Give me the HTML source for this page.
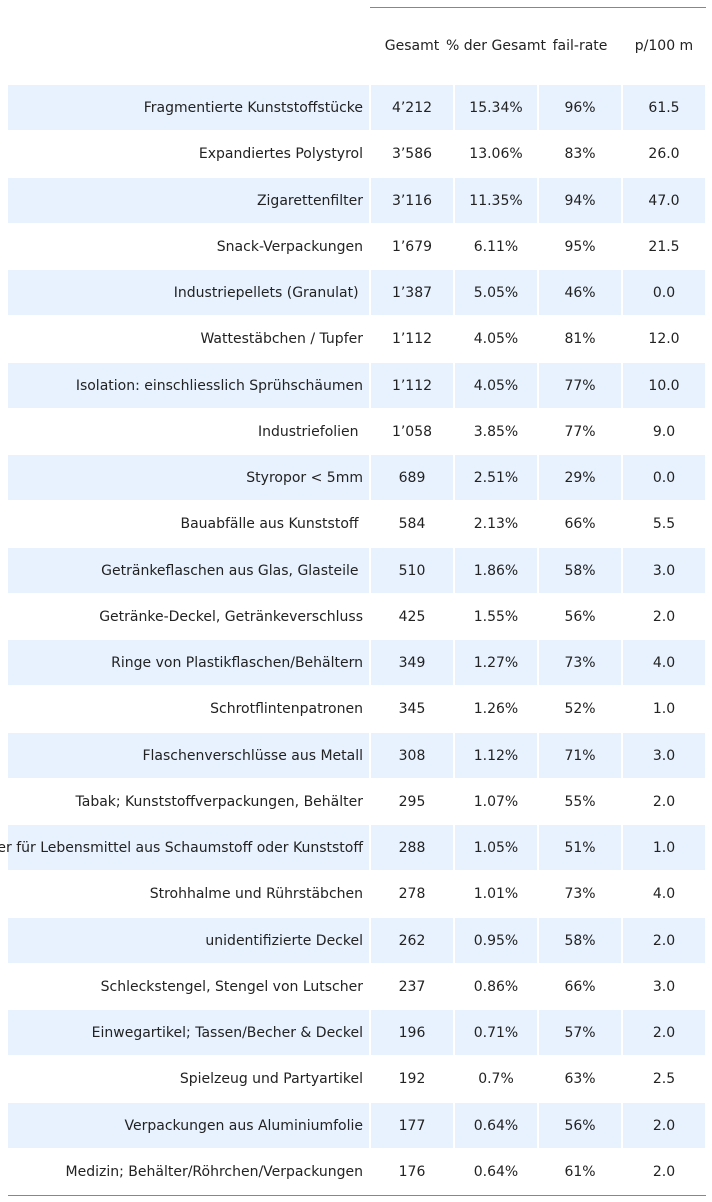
<!DOCTYPE html>
<html><head><meta charset="utf-8"><style>
body{margin:0;width:712px;height:1202px;background:#fff;position:relative;overflow:hidden;font-family:"DejaVu Sans","Liberation Sans",sans-serif;font-size:14px;color:#222}
.c{position:absolute;height:45px;line-height:46px;white-space:nowrap}
.s{background:#e8f2fe}
.h{position:absolute;top:24px;height:45px;line-height:45px;text-align:center}
.l{position:absolute;height:1px;background:#5b8fd0}
</style></head><body>
<div class="l" style="left:370px;top:7px;width:336px"></div>
<div class="l" style="left:8px;top:1195px;width:698px"></div>
<div class="h" style="left:371px;width:82px">Gesamt</div>
<div class="h" style="left:440px;width:112px">% der Gesamt</div>
<div class="h" style="left:539px;width:82px">fail-rate</div>
<div class="h" style="left:623px;width:82px">p/100 m</div>
<div id="t"></div>
<script>
const labels=["Fragmentierte Kunststoffstücke","Expandiertes Polystyrol","Zigarettenfilter","Snack-Verpackungen","Industriepellets (Granulat) ","Wattestäbchen / Tupfer","Isolation: einschliesslich Sprühschäumen","Industriefolien ","Styropor < 5mm","Bauabfälle aus Kunststoff ","Getränkeflaschen aus Glas, Glasteile ","Getränke-Deckel, Getränkeverschluss","Ringe von Plastikflaschen/Behältern","Schrotflintenpatronen","Flaschenverschlüsse aus Metall","Tabak; Kunststoffverpackungen, Behälter","Behälter für Lebensmittel aus Schaumstoff oder Kunststoff","Strohhalme und Rührstäbchen","unidentifizierte Deckel","Schleckstengel, Stengel von Lutscher","Einwegartikel; Tassen/Becher & Deckel","Spielzeug und Partyartikel","Verpackungen aus Aluminiumfolie","Medizin; Behälter/Röhrchen/Verpackungen"];
const totals=["4’212","3’586","3’116","1’679","1’387","1’112","1’112","1’058","689","584","510","425","349","345","308","295","288","278","262","237","196","192","177","176"];
const pcts=["15.34%","13.06%","11.35%","6.11%","5.05%","4.05%","4.05%","3.85%","2.51%","2.13%","1.86%","1.55%","1.27%","1.26%","1.12%","1.07%","1.05%","1.01%","0.95%","0.86%","0.71%","0.7%","0.64%","0.64%"];
const fails=["96%","83%","94%","95%","46%","81%","77%","77%","29%","66%","58%","56%","73%","52%","71%","55%","51%","73%","58%","66%","57%","63%","56%","61%"];
const p100=["61.5","26.0","47.0","21.5","0.0","12.0","10.0","9.0","0.0","5.5","3.0","2.0","4.0","1.0","3.0","2.0","1.0","4.0","2.0","3.0","2.0","2.5","2.0","2.0"];
const t=document.getElementById('t');
const cols=[[371,82,totals,'gesamt'],[455,82,pcts,'percent'],[539,82,fails,'fail-rate'],[623,82,p100,'p100m']];
labels.forEach((lab,i)=>{
 const y=85+i*46.25;
 const d=document.createElement('div');
 d.className='c'+(i%2==0?' s':'');
 
 
 d.style.cssText=`left:8px;width:361px;top:${y}px;`;
 const sp=document.createElement('span');
 sp.textContent=lab;
 sp.style.cssText='position:absolute;right:6px;white-space:pre';
 d.appendChild(sp);t.appendChild(d);
 cols.forEach(([x,w,arr,n])=>{
  const e=document.createElement('div');
  e.className='c'+(i%2==0?' s':'');
  
  
  e.style.cssText=`left:${x}px;width:${w}px;top:${y}px;text-align:center`;
  e.textContent=arr[i];t.appendChild(e);
 });
});
</script>
</body></html>
